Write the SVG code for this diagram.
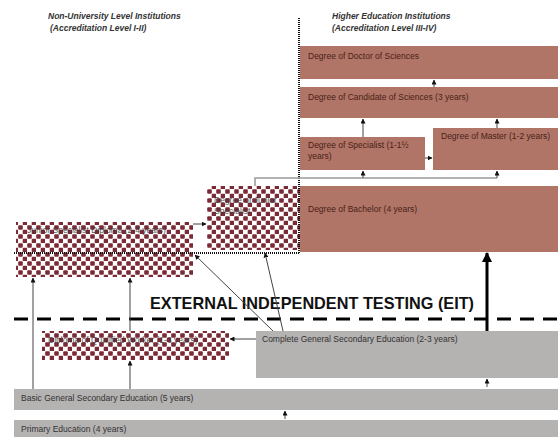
<svg xmlns="http://www.w3.org/2000/svg" width="558" height="437" viewBox="0 0 558 437">
<defs>
<pattern id="chk" width="9" height="9" patternUnits="userSpaceOnUse">
<rect width="9" height="9" fill="#ffffff"/>
<rect x="0.2" y="0.2" width="4.6" height="4.6" rx="1" fill="#7b2b36"/>
<rect x="4.7" y="4.7" width="4.6" height="4.6" rx="1" fill="#7b2b36"/>
</pattern>
<marker id="ah" viewBox="0 0 10 10" refX="9" refY="5" markerWidth="5" markerHeight="5" orient="auto" markerUnits="userSpaceOnUse">
<path d="M0,0 L10,5 L0,10 z" fill="#111"/>
</marker>
<marker id="ahb" viewBox="0 0 10 10" refX="9" refY="5" markerWidth="10" markerHeight="10" orient="auto" markerUnits="userSpaceOnUse">
<path d="M0,0 L10,5 L0,10 z" fill="#000"/>
</marker>
</defs>
<style>
.brown{fill:#b07567}
.gray{fill:#b5b2b2}
.chk{fill:url(#chk)}
.t{font-family:"Liberation Sans",Arial,sans-serif;font-size:8.5px}
.tb{fill:#4a1f17}
.tg{fill:#333}
.tc{fill:#3a3a3a;opacity:0.85}
.hd{font-family:"Liberation Sans",Arial,sans-serif;font-size:8.5px;font-style:italic;font-weight:bold;fill:#333}
.ln{stroke:#444;stroke-width:1;fill:none}
.lg{stroke:#999;stroke-width:1.5;fill:none}
</style>
<rect width="558" height="437" fill="#ffffff"/>

<g id="headers">
<text class="hd" x="48" y="19">Non-University Level Institutions</text>
<text class="hd" x="50" y="31">(Accreditation Level I-II)</text>
<text class="hd" x="332" y="19">Higher Education Institutions</text>
<text class="hd" x="332" y="31">(Accreditation Level III-IV)</text>
</g>

<g id="doctor"><rect class="brown" x="300" y="46" width="258" height="33"/><text class="t tb" x="308" y="59">Degree of Doctor of Sciences</text></g>
<g id="candidate"><rect class="brown" x="300" y="87" width="258" height="31"/><text class="t tb" x="308" y="100">Degree of Candidate of Sciences (3 years)</text></g>
<g id="specialist"><rect class="brown" x="300" y="137" width="125" height="33"/><text class="t tb" x="308" y="148">Degree of Specialist (1-1½</text><text class="t tb" x="308" y="159">years)</text></g>
<g id="master"><rect class="brown" x="433" y="128" width="125" height="42"/><text class="t tb" x="441" y="139">Degree of Master (1-2 years)</text></g>
<g id="bachelor"><rect class="brown" x="300" y="186" width="258" height="66"/><text class="t tb" x="308" y="212">Degree of Bachelor (4 years)</text></g>
<g id="junior-mid"><rect class="chk" x="207" y="186" width="93" height="64"/><text class="t tc" x="214" y="203">Degree of Junior</text><text class="t tc" x="214" y="214">Specialist</text></g>
<g id="junior-left"><rect class="chk" x="16" y="222" width="177" height="55"/><text class="t tc" x="27" y="233">Junior Specialist Diploma (2-4 years)</text></g>
<g id="eit"><text x="150" y="309" font-family="'Liberation Sans',Arial,sans-serif" font-size="17" font-weight="bold" fill="#111" textLength="324" lengthAdjust="spacingAndGlyphs">EXTERNAL INDEPENDENT TESTING (EIT)</text></g>
<g id="complete"><rect class="gray" x="256" y="331" width="302" height="47"/><text class="t tg" x="262" y="342">Complete General Secondary Education (2-3 years)</text></g>
<g id="qualified"><rect class="chk" x="42" y="331" width="187" height="29"/><text class="t tc" x="48" y="343">Diploma of Qualified Worker (1-3 years)</text></g>
<g id="basic"><rect class="gray" x="14" y="389" width="544" height="21"/><text class="t tg" x="21" y="401">Basic General Secondary Education (5 years)</text></g>
<g id="primary"><rect class="gray" x="14" y="420" width="544" height="17"/><text class="t tg" x="21" y="432">Primary Education (4 years)</text></g>

<g id="borders">
<line x1="299" y1="18" x2="299" y2="253" stroke="#111" stroke-width="2" stroke-dasharray="1,1"/>
<line x1="14" y1="253" x2="300" y2="253" stroke="#111" stroke-width="2" stroke-dasharray="1,1"/>
<line x1="14" y1="319" x2="558" y2="319" stroke="#000" stroke-width="3" stroke-dasharray="14,9"/>
</g>

<g id="connectors">
<line class="ln" x1="434" y1="87" x2="434" y2="80" marker-end="url(#ah)"/>
<line class="ln" x1="363" y1="137" x2="363" y2="119" marker-end="url(#ah)"/>
<line class="ln" x1="497" y1="128" x2="497" y2="119" marker-end="url(#ah)"/>
<line class="ln" x1="425" y1="158" x2="432" y2="158" marker-end="url(#ah)"/>
<path class="lg" d="M255,186 V178 H497"/>
<line class="ln" x1="363" y1="178" x2="363" y2="171" marker-end="url(#ah)"/>
<line class="ln" x1="497" y1="178" x2="497" y2="171" marker-end="url(#ah)"/>
<line class="ln" x1="193" y1="224" x2="206" y2="224" marker-end="url(#ah)"/>
<line x1="487" y1="331" x2="487" y2="253" stroke="#000" stroke-width="3" marker-end="url(#ahb)"/>
<line class="ln" x1="273" y1="331" x2="195" y2="255" marker-end="url(#ah)"/>
<line class="ln" x1="283" y1="331" x2="265" y2="253" marker-end="url(#ah)"/>
<line class="ln" x1="256" y1="339" x2="230" y2="339" marker-end="url(#ah)"/>
<line class="ln" x1="33" y1="389" x2="33" y2="278" marker-end="url(#ah)"/>
<line class="ln" x1="130" y1="331" x2="130" y2="278" marker-end="url(#ah)"/>
<line class="ln" x1="130" y1="389" x2="130" y2="361" marker-end="url(#ah)"/>
<line class="ln" x1="487" y1="387" x2="487" y2="379" marker-end="url(#ah)"/>
<line class="ln" x1="285" y1="419" x2="285" y2="411" marker-end="url(#ah)"/>
</g>
</svg>
